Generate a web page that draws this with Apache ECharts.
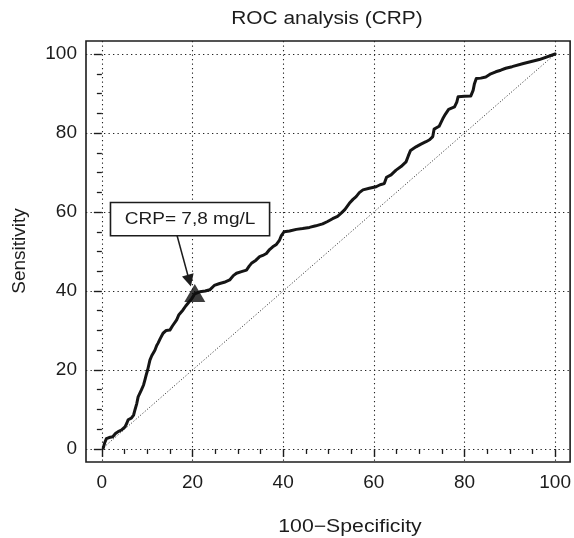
<!DOCTYPE html>
<html lang="en">
<head>
<meta charset="UTF-8">
<title>ROC analysis (CRP)</title>
<script src="https://cdn.jsdelivr.net/npm/echarts@6/dist/echarts.min.js"></script>
<style>
  html, body { margin: 0; padding: 0; background: #fff; }
  #main { width: 574px; height: 538px; }
</style>
</head>
<body>
<div id="main"></div>
<script>
// ROC curve: 100-specificity (x) and sensitivity (y)
var fpr = [0.3, 0.6, 1.0, 1.6, 2.4, 3.0, 3.6, 4.3, 5.1, 5.5, 5.8, 6.5, 7.0, 7.3, 7.7, 8.0, 8.7, 9.2, 9.5, 9.8,
  10.1, 10.6, 11.0, 11.7, 12.1, 12.4, 12.9, 13.5, 14.2, 15.0, 15.6, 16.5, 17.0, 17.9, 18.5, 19.0, 19.8, 20.5,
  21.6, 22.8, 23.8, 24.8, 26.0, 27.0, 28.2, 29.0, 29.7, 30.8, 31.9, 32.5, 33.0, 34.0, 34.8, 35.5, 36.3, 37.0,
  37.7, 38.5, 39.2, 39.6, 40.2, 41.4, 42.9, 44.3, 45.8, 47.2, 48.7, 49.8, 50.9, 52.0, 52.8, 53.6, 54.6, 55.4,
  56.1, 56.8, 57.6, 59.0, 60.5, 61.4, 62.3, 62.7, 62.8, 63.8, 64.9, 66.0, 67.1, 67.6, 68.1, 69.3, 70.4, 71.5,
  72.3, 73.0, 73.3, 74.4, 75.2, 75.8, 76.5, 77.8, 78.3, 78.6, 80.0, 81.4, 81.9, 82.2, 82.6, 83.6, 84.7, 85.8,
  86.9, 88.0, 89.1, 90.5, 93.0, 96.5, 100];
var sens = [0.2, 1.5, 2.6, 2.9, 3.1, 3.9, 4.4, 4.8, 5.6, 6.5, 7.4, 7.8, 8.6, 9.9, 11.5, 13.2, 14.9, 16.2, 17.5, 18.8,
  20.0, 22.5, 23.6, 25.0, 26.2, 26.8, 28.0, 29.3, 30.0, 30.1, 31.2, 32.7, 34.0, 35.2, 36.2, 36.9, 38.0, 39.3,
  39.8, 40.0, 40.3, 41.4, 41.9, 42.2, 42.8, 43.9, 44.5, 44.9, 45.3, 46.3, 47.0, 47.8, 48.7, 49.0, 49.5, 50.5,
  51.2, 51.8, 52.9, 54.0, 55.0, 55.2, 55.6, 55.8, 56.1, 56.5, 57.0, 57.6, 58.3, 58.9, 59.7, 60.6, 62.2, 63.2,
  63.9, 64.9, 65.6, 66.0, 66.4, 66.9, 67.2, 67.3, 68.8, 69.4, 70.6, 71.5, 72.7, 74.2, 75.6, 76.5, 77.2, 77.8,
  78.3, 79.1, 81.0, 81.7, 83.6, 84.8, 86.0, 86.6, 87.8, 89.2, 89.3, 89.4, 90.8, 92.5, 93.8, 93.9, 94.2, 95.0,
  95.5, 95.9, 96.4, 96.8, 97.6, 98.6, 100];
var diagonal = [[0, 0], [100, 100]];
var cutoffPoint = [20.5, 39.5];
var cutoffLabel = 'CRP= 7,8 mg/L';
var majorTicks = [0, 20, 40, 60, 80, 100];
var minorTicks = [5, 10, 15, 25, 30, 35, 45, 50, 55, 65, 70, 75, 85, 90, 95];

var ink = '#1c1c1c';
var font = '"Liberation Sans", Arial, Helvetica, sans-serif';

var chart = echarts.init(document.getElementById('main'));

var rocData = [];
for (var i = 0; i < fpr.length; i++) {
    rocData.push([fpr[i], sens[i]]);
}

function mainAxis(pos, min, max, margin) {
    return {
        type: 'value', position: pos, min: min, max: max,
        axisLine: { show: false },
        axisTick: { show: true, length: 8, customValues: majorTicks, lineStyle: { color: ink, width: 1.4 } },
        axisLabel: { customValues: majorTicks, fontFamily: font, fontSize: 19, color: ink, margin: margin },
        splitLine: { show: true, lineStyle: { color: '#222', width: 1.1, type: [1.3, 3.2] } }
    };
}
function minorAxis(pos, min, max) {
    return {
        type: 'value', position: pos, min: min, max: max,
        axisLine: { show: false },
        axisTick: { show: true, length: 5, customValues: minorTicks, lineStyle: { color: ink, width: 1.3 } },
        axisLabel: { show: false },
        splitLine: { show: false }
    };
}

var option = {
    animation: false,
    backgroundColor: '#fff',
    grid: { left: 86, top: 41, width: 485, height: 421, show: true, borderColor: ink, borderWidth: 1.6 },
    xAxis: [mainAxis('bottom', -3.5, 103.3, 11), minorAxis('bottom', -3.5, 103.3)],
    yAxis: [mainAxis('left', -3.3, 103.3, 9), minorAxis('left', -3.3, 103.3)],
    series: [
        {
            type: 'line', data: diagonal, showSymbol: false, silent: true, z: 2,
            lineStyle: { color: '#222', width: 1, type: [1, 2] }
        },
        {
            type: 'line', data: rocData, showSymbol: false, silent: true, z: 3,
            lineStyle: { color: '#151515', width: 3, join: 'round', cap: 'round' }
        },
        {
            type: 'scatter', data: [cutoffPoint], symbol: 'triangle', symbolSize: [21, 18], z: 4, silent: true,
            itemStyle: { color: '#0d0d0d' },
            markLine: {
                silent: true, symbol: ['none', 'triangle'], symbolSize: 12,
                label: { show: false },
                lineStyle: { color: ink, width: 1.5, type: 'solid' },
                data: [[{ coord: [16.6, 54.0] }, { coord: [19.3, 42.6] }]]
            }
        }
    ]
};
chart.setOption(option);

// annotation box around the cutoff label, placed in data coordinates
var tl = chart.convertToPixel({ gridIndex: 0 }, [1.9, 62.4]);
var br = chart.convertToPixel({ gridIndex: 0 }, [37.0, 54.0]);

chart.setOption({
    graphic: [
        {
            type: 'rect', z: 10,
            shape: { x: tl[0], y: tl[1], width: br[0] - tl[0], height: br[1] - tl[1] },
            style: { fill: '#fff', stroke: ink, lineWidth: 1.6 }
        },
        {
            type: 'text', z: 11, x: (tl[0] + br[0]) / 2, y: (tl[1] + br[1]) / 2, scaleX: 1.12,
            style: { text: cutoffLabel, fontFamily: font, fontSize: 17, fill: ink,
                     align: 'center', verticalAlign: 'middle', textAlign: 'center', textVerticalAlign: 'middle' }
        },
        {
            type: 'text', x: 327, y: 19, scaleX: 1.16,
            style: { text: 'ROC analysis (CRP)', fontFamily: font, fontSize: 18, fill: ink,
                     align: 'center', verticalAlign: 'middle', textAlign: 'center', textVerticalAlign: 'middle' }
        },
        {
            type: 'text', x: 350, y: 527, scaleX: 1.18,
            style: { text: '100\u2212Specificity', fontFamily: font, fontSize: 18, fill: ink,
                     align: 'center', verticalAlign: 'middle', textAlign: 'center', textVerticalAlign: 'middle' }
        },
        {
            type: 'text', x: 20, y: 251, rotation: Math.PI / 2,
            style: { text: 'Sensitivity', fontFamily: font, fontSize: 19, fill: ink,
                     align: 'center', verticalAlign: 'middle', textAlign: 'center', textVerticalAlign: 'middle' }
        }
    ]
});
</script>
</body>
</html>
